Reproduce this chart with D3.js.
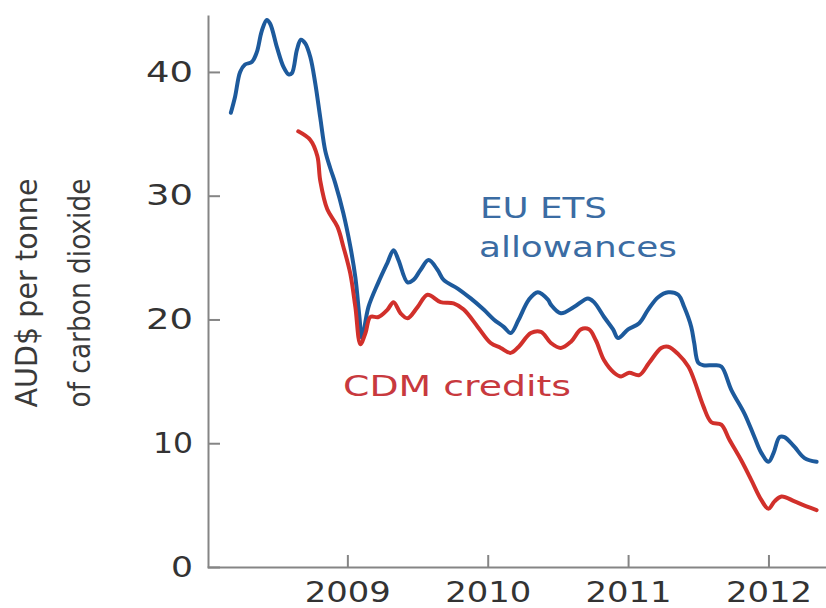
<!DOCTYPE html>
<html>
<head>
  <meta charset="utf-8">
  <title>EU ETS vs CDM prices</title>
  <style>
    body { margin: 0; background: #fff; }
  </style>
</head>
<body>
  <div id="chart"></div>
<script src="https://d3js.org/d3.v7.min.js"></script>
<script>
// series (decimal years, AUD$ per tonne)
var etsDates = [2008.17, 2008.20, 2008.236, 2008.271, 2008.319, 2008.355, 2008.39, 2008.426, 2008.45,
  2008.498, 2008.545, 2008.581, 2008.605, 2008.641, 2008.669, 2008.70, 2008.736, 2008.771, 2008.807,
  2008.843, 2008.879, 2008.914, 2008.971, 2009.021, 2009.057, 2009.086, 2009.104, 2009.15, 2009.221,
  2009.286, 2009.329, 2009.364, 2009.429, 2009.471, 2009.521, 2009.579, 2009.643, 2009.686, 2009.786,
  2009.879, 2009.971, 2010.043, 2010.114, 2010.164, 2010.221, 2010.293, 2010.357, 2010.429, 2010.45,
  2010.521, 2010.614, 2010.714, 2010.757, 2010.829, 2010.893, 2010.929, 2011.0, 2011.079, 2011.143,
  2011.214, 2011.286, 2011.357, 2011.40, 2011.45, 2011.471, 2011.50, 2011.536, 2011.614, 2011.664,
  2011.736, 2011.829, 2011.90, 2011.95, 2012.0, 2012.036, 2012.079, 2012.114, 2012.186, 2012.257, 2012.343];
var etsPrices = [36.7, 38.0, 40.0, 40.6, 40.8, 41.6, 43.3, 44.2, 43.9,
  42.0, 40.4, 39.8, 39.9, 41.8, 42.6, 42.3, 41.2, 39.1, 36.3,
  33.6, 32.2, 31.0, 28.6, 25.9, 23.4, 20.2, 18.5, 21.0, 23.0,
  24.6, 25.6, 24.8, 23.0, 23.2, 24.0, 24.8, 24.0, 23.2, 22.5,
  21.7, 20.8, 20.0, 19.4, 18.9, 20.0, 21.6, 22.2, 21.6, 21.2,
  20.5, 21.0, 21.7, 21.4, 20.2, 19.2, 18.5, 19.2, 19.7, 20.8,
  21.8, 22.2, 22.0, 21.0, 19.4, 18.1, 16.5, 16.3, 16.3, 16.2,
  14.3, 12.4, 10.5, 9.2, 8.5, 9.2, 10.5, 10.5, 9.7, 8.8, 8.5];

var cdmDates = [2008.65, 2008.736, 2008.786, 2008.807, 2008.857, 2008.929, 2008.971, 2009.021, 2009.057,
  2009.093, 2009.129, 2009.164, 2009.221, 2009.286, 2009.329, 2009.379, 2009.429, 2009.50, 2009.571,
  2009.664, 2009.757, 2009.829, 2009.929, 2010.021, 2010.093, 2010.164, 2010.221, 2010.307, 2010.379,
  2010.45, 2010.521, 2010.593, 2010.664, 2010.721, 2010.771, 2010.829, 2010.90, 2010.95, 2011.007,
  2011.079, 2011.15, 2011.236, 2011.286, 2011.357, 2011.429, 2011.471, 2011.536, 2011.593, 2011.664,
  2011.721, 2011.807, 2011.879, 2011.95, 2012.0, 2012.043, 2012.093, 2012.186, 2012.271, 2012.343];
var cdmPrices = [35.2, 34.5, 33.2, 31.2, 28.9, 27.5, 25.9, 23.7, 21.0,
  18.0, 18.9, 20.2, 20.2, 20.8, 21.4, 20.5, 20.1, 21.0, 22.0,
  21.4, 21.3, 20.8, 19.4, 18.1, 17.7, 17.3, 17.8, 18.9, 19.0,
  18.1, 17.7, 18.2, 19.2, 19.2, 18.3, 16.7, 15.7, 15.4, 15.7,
  15.5, 16.5, 17.7, 17.8, 17.2, 16.2, 15.1, 13.0, 11.7, 11.5,
  10.3, 8.6, 7.0, 5.4, 4.7, 5.3, 5.7, 5.3, 4.9, 4.6];

var yearTicks = [2009, 2010, 2011, 2012];
var priceTicks = [0, 10, 20, 30, 40];

var w = 826, h = 608;
var axisColor = "#858585";
var textColor = "#333";

var svg = d3.select("#chart").append("svg")
  .attr("width", w)
  .attr("height", h)
  .style("font-family", "'DejaVu Sans', sans-serif");

var x = d3.scaleLinear().domain([2008.0, 2012.41]).range([207, 826]);
var y = d3.scaleLinear().domain([0, 44.6]).range([567, 15]);

// axes
var xAxis = svg.append("g")
  .attr("transform", "translate(0,567)")
  .call(d3.axisBottom(x).tickValues(yearTicks).tickFormat(d3.format("d"))
    .tickSize(-12).tickSizeOuter(0).tickPadding(15));

var yAxis = svg.append("g")
  .attr("transform", "translate(208,0)")
  .call(d3.axisLeft(y).tickValues(priceTicks)
    .tickSize(-12).tickSizeOuter(0).tickPadding(15));

[xAxis, yAxis].forEach(function (g) {
  g.select(".domain").attr("stroke", axisColor).attr("stroke-width", 2);
  g.selectAll(".tick line").attr("stroke", axisColor).attr("stroke-width", 2);
  g.selectAll(".tick text")
    .attr("fill", textColor)
    .attr("font-size", "29px")
    .attr("font-family", "'DejaVu Sans', sans-serif");
});
xAxis.selectAll(".tick text")
  .attr("font-size", "28px")
  .attr("textLength", 86)
  .attr("lengthAdjust", "spacingAndGlyphs");
yAxis.selectAll(".tick text")
  .attr("textLength", function (d) { return d === 0 ? 22 : (d === 10 ? 40 : 47); })
  .attr("lengthAdjust", "spacingAndGlyphs");

// y label, two rotated lines
var yLabel = ["AUD$ per tonne", "of carbon dioxide"];
svg.selectAll(".ylab")
  .data(yLabel)
  .enter()
  .append("text")
  .attr("class", "ylab")
  .attr("transform", function (d, i) {
    return "translate(" + (i === 0 ? 37 : 90) + ",293) rotate(-90)";
  })
  .attr("text-anchor", "middle")
  .attr("font-size", "31px")
  .attr("fill", "#3a3a3a")
  .attr("textLength", 229)
  .attr("lengthAdjust", "spacingAndGlyphs")
  .text(function (d) { return d; });

// lines
var line = d3.line()
  .x(function (d) { return x(d[0]); })
  .y(function (d) { return y(d[1]); })
  .curve(d3.curveCatmullRom.alpha(0.5));

var ets = d3.zip(etsDates, etsPrices);
var cdm = d3.zip(cdmDates, cdmPrices);

svg.append("path")
  .datum(ets)
  .attr("d", line)
  .attr("fill", "none")
  .attr("stroke", "#1d5a9c")
  .attr("stroke-width", 4)
  .attr("stroke-linejoin", "round")
  .attr("stroke-linecap", "round");

svg.append("path")
  .datum(cdm)
  .attr("d", line)
  .attr("fill", "none")
  .attr("stroke", "#d1302b")
  .attr("stroke-width", 4)
  .attr("stroke-linejoin", "round")
  .attr("stroke-linecap", "round");

// series labels
var etsLabel = svg.append("text")
  .attr("fill", "#3b6ca3")
  .attr("font-size", "29px");
etsLabel.append("tspan").attr("x", 480).attr("y", 218)
  .attr("textLength", 127).attr("lengthAdjust", "spacingAndGlyphs").text("EU ETS");
etsLabel.append("tspan").attr("x", 479).attr("y", 257)
  .attr("textLength", 198).attr("lengthAdjust", "spacingAndGlyphs").text("allowances");

svg.append("text")
  .attr("x", 343)
  .attr("y", 396)
  .attr("fill", "#c8393e")
  .attr("font-size", "29px")
  .attr("textLength", 228)
  .attr("lengthAdjust", "spacingAndGlyphs")
  .text("CDM credits");
</script>
</body>
</html>
